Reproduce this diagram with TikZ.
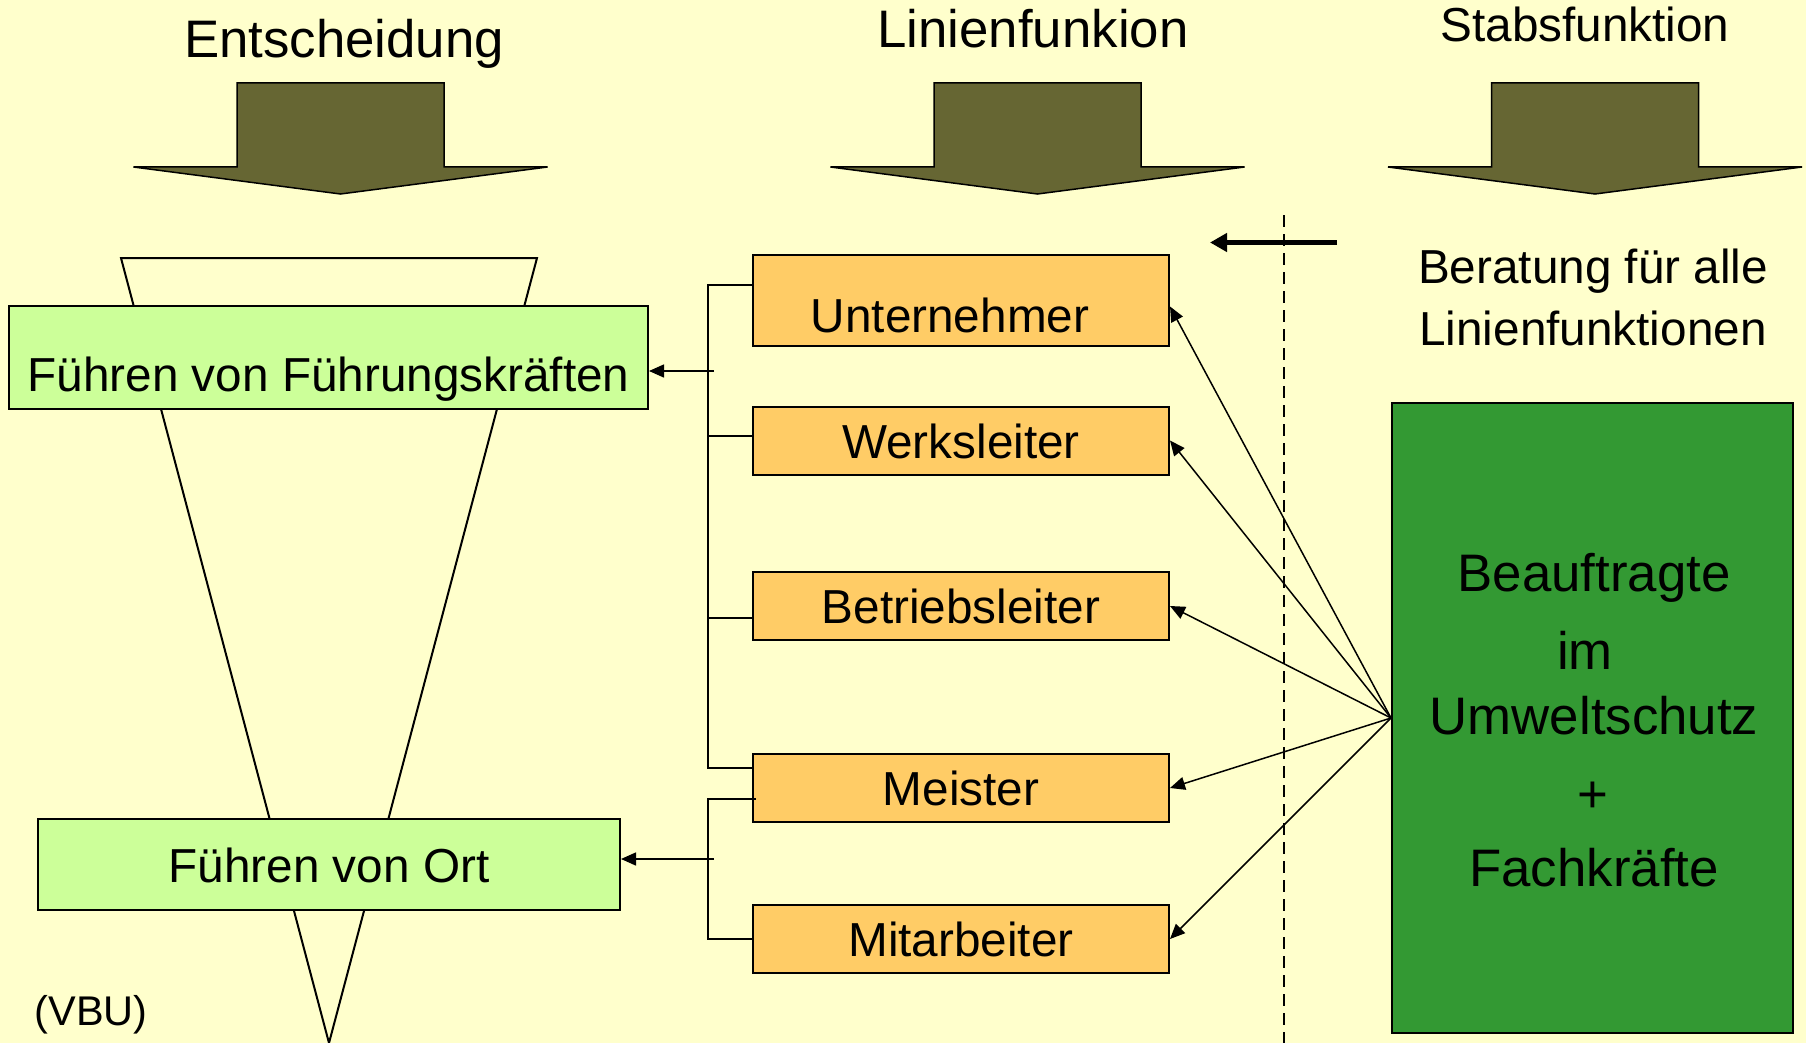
\documentclass[tikz,border=0pt]{standalone}
\usepackage{fontspec}
\setmainfont{Liberation Sans}
\usetikzlibrary{arrows.meta,calc}
\definecolor{bgc}{HTML}{FFFFCC}
\definecolor{olivec}{HTML}{666633}
\definecolor{lgreen}{HTML}{CCFF99}
\definecolor{orng}{HTML}{FFCC66}
\definecolor{dgreen}{HTML}{339933}
\begin{document}
\begin{tikzpicture}[x=1pt,y=-1pt,
  conn/.style={line width=1.5pt},
  arr/.style={conn,-{Triangle[length=15pt,width=13pt]}},
  fmid/.style={font=\fontsize{47.7}{52}\selectfont},
  fbig/.style={font=\fontsize{52.8}{58}\selectfont},
  fsmall/.style={font=\fontsize{41.5}{46}\selectfont},
  gbox/.style={draw,line width=2pt,fill=lgreen,inner sep=0pt,fmid,text depth=0pt},
  obox/.style={draw,line width=2pt,fill=orng,inner sep=0pt,fmid,minimum width=416pt,minimum height=68pt,text height=35pt,text depth=0pt},
  bigarrow/.style={draw,line width=1.5pt,fill=olivec},
  lbl/.style={anchor=base,inner sep=0pt}
]
\fill[bgc] (0,0) rectangle (1806,1043);
\useasboundingbox (0,0) rectangle (1806,1043);

% titles
\node[lbl,fbig] (t1) at (344,58) {Entscheidung};
\node[lbl,fbig] (t2) at (1033,48) {Linienfunkion};
\node[lbl,fmid] (t3) at (1585,42) {Stabsfunktion};

% big downward arrows
\foreach \c in {340.5,1037.5,1595}
  \draw[bigarrow] ({\c-103.5},83) -- ({\c+103.5},83) -- ({\c+103.5},167) -- ({\c+207},167)
     -- (\c,194) -- ({\c-207},167) -- ({\c-103.5},167) -- cycle;

% funnel
\draw[line width=2pt] (121,258) -- (537,258) -- (329,1043) -- cycle;

% left green boxes
\node[gbox,minimum width=639pt,minimum height=103pt,text height=67pt] (g1) at (328.5,357.5) {Führen von Führungskräften};
\node[gbox,minimum width=582pt,minimum height=91pt,text height=35pt] (g2) at (329,864.5) {Führen von Ort};

% line function boxes
\node[obox,minimum height=91pt,text height=63pt] (u) at (961,300.5) {Unternehmer\hspace*{22pt}};
\node[obox] (w) at (961,440.5) {Werksleiter};
\node[obox] (b) at (961,606) {Betriebsleiter};
\node[obox] (m) at (961,788) {Meister};
\node[obox] (mi) at (961,939) {Mitarbeiter};

% staff box
\node[draw,line width=2pt,fill=dgreen,inner sep=0pt,minimum width=401pt,minimum height=630pt] (stab) at (1592.5,718) {};
\node[lbl,fbig] (s1) at (1594,591) {Beauftragte};
\node[lbl,fbig] (s2) at (1585,669) {im};
\node[lbl,fbig] (s3) at (1594,734) {Umweltschutz};
\node[lbl,fbig] (s4) at (1593,812) {+};
\node[lbl,fbig] (s5) at (1594,886) {Fachkräfte};

\node[lbl,fmid] (be1) at (1593,283) {Beratung für alle};
\node[lbl,fmid] (be2) at (1593,345) {Linienfunktionen};

\node[lbl,fsmall] (vbu) at (91,1025) {(VBU)};

% brackets
\coordinate (bx) at (708,0);
\coordinate (ut) at ([yshift=15.5pt]u.west);
\coordinate (wt) at ([yshift=4.5pt]w.west);
\coordinate (bt) at ([yshift=-12pt]b.west);
\coordinate (mt) at ([yshift=20pt]m.west);
\coordinate (mb) at ([xshift=4pt,yshift=-11pt]m.west);
\coordinate (at) at (mi.west);
\draw[conn] (ut) -- (ut -| bx) -- (mt -| bx) -- (mt);
\draw[conn] (wt -| bx) -- (wt);
\draw[conn] (bt -| bx) -- (bt);
\draw[conn] (mb) -- (mb -| bx) -- (at -| bx) -- (at);

\coordinate (j1) at (714,371);
\draw[arr] (j1) -- (j1 -| g1.east);
\coordinate (j2) at (714,859);
\draw[arr] (j2) -- (j2 -| g2.east);

% dashed separator
\coordinate (d1) at (1284,215);
\coordinate (d2) at (1284,1043);
\draw[line width=1.5pt,dash pattern=on 12pt off 7pt] (d1) -- (d2);

% thick arrow
\coordinate (ta) at (1337,242.5);
\coordinate (tb) at (1210,242.5);
\draw[line width=5pt,-{Triangle[length=17pt,width=18pt]}] (ta) -- (tb);

% advice arrows
\draw[arr] (stab.west) -- ([yshift=-6pt]u.east);
\draw[arr] (stab.west) -- (w.east);
\draw[arr] (stab.west) -- (b.east);
\draw[arr] (stab.west) -- (m.east);
\draw[arr] (stab.west) -- (mi.east);
\end{tikzpicture}
\end{document}
